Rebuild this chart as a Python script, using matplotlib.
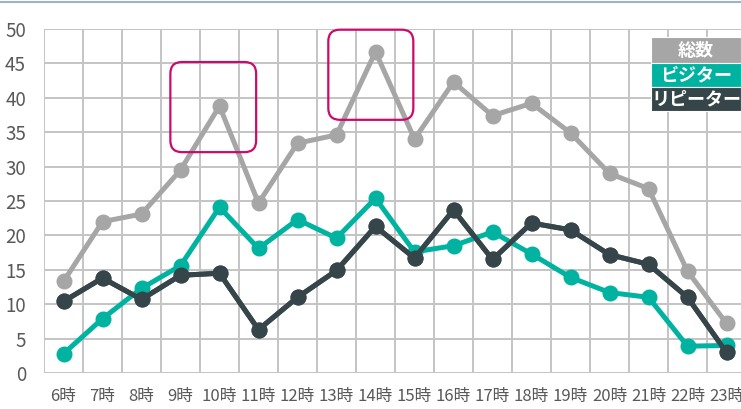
import matplotlib
matplotlib.use("Agg")
import matplotlib.pyplot as plt
from matplotlib.patches import FancyBboxPatch, Rectangle
from matplotlib.lines import Line2D

plt.rcParams["font.family"] = ["Noto Sans CJK JP", "DejaVu Sans"]

# hourly counts
hours = [f"{h}時" for h in range(6, 24)]
total = [13.3, 22.0, 23.1, 29.5, 38.8, 24.7, 33.4, 34.6, 46.7, 34.0,
         42.3, 37.4, 39.2, 34.9, 29.0, 26.8, 14.8, 7.2]
visitor = [2.8, 7.9, 12.3, 15.6, 24.1, 18.1, 22.3, 19.6, 25.4, 17.6,
           18.5, 20.5, 17.3, 13.9, 11.7, 11.0, 3.9, 4.0]
repeater = [10.4, 13.8, 10.7, 14.2, 14.5, 6.3, 11.0, 14.9, 21.3, 16.7,
            23.7, 16.5, 21.8, 20.8, 17.2, 15.8, 11.0, 3.0]
series_names = ["総数", "ビジター", "リピーター"]
yticks = [0, 5, 10, 15, 20, 25, 30, 35, 40, 45, 50]

C_TOTAL = "#a6a6a6"
C_VISIT = "#00b3a1"
C_REPEAT = "#36454a"
C_GRID = "#c4c4c4"
C_TEXT = "#595959"
C_HILITE = "#cc0a6a"

W, H = 741, 409
fig = plt.figure(figsize=(W / 100, H / 100), dpi=100)
# plot area runs past the right edge of the image
ax = fig.add_axes([44 / W, (H - 373) / H, 702 / W, 344 / H])

x = range(len(hours))
for vals, col in [(total, C_TOTAL), (repeater, C_REPEAT), (visitor, C_VISIT)]:
    ax.plot(x, vals, color=col, lw=3.6, marker="o", ms=10.5,
            solid_capstyle="round", zorder=3)
# repeater drawn on top at the crossing points
ax.plot(x, repeater, color=C_REPEAT, lw=3.6, marker="o", ms=10.5, zorder=4)

ax.set_xlim(-0.5, len(hours) - 0.5)
ax.set_ylim(0, 50)
ax.set_yticks(yticks)
ax.set_xticks(list(x))
ax.set_xticklabels(hours)
ax.tick_params(axis="both", length=0, colors=C_TEXT)
ax.tick_params(axis="y", labelsize=13.5, pad=13)
ax.tick_params(axis="x", labelsize=12, pad=11)

# category boundaries as vertical grid lines
for b in range(len(hours) + 1):
    ax.axvline(b - 0.5, color=C_GRID, lw=1.4, zorder=1)
for t in yticks:
    ax.axhline(t, color=C_GRID, lw=1.4, zorder=1)
for s in ax.spines.values():
    s.set_visible(False)

# highlight boxes around the 10時 and 14時 peaks
asp = (1 / 6.88) / (1 / 39.0)
for x0, x1, y0, y1 in [(2.74, 4.94, 32.1, 45.2), (6.79, 8.97, 36.8, 49.9)]:
    ax.add_patch(FancyBboxPatch((x0, y0), x1 - x0, y1 - y0,
                                boxstyle="round,pad=0,rounding_size=0.3",
                                mutation_aspect=asp, fill=False,
                                ec=C_HILITE, lw=1.6, zorder=5,
                                clip_on=False))

# legend as stacked colour blocks
lx0, lw_ = 651, 90
rows = [(37, 26), (63, 24), (87, 24)]
for name, col, (top, h) in zip(series_names, [C_TOTAL, C_VISIT, C_REPEAT], rows):
    fig.add_artist(Rectangle((lx0 / W, (H - top - h) / H), lw_ / W, h / H,
                             transform=fig.transFigure, fc=col, ec="white",
                             lw=0.8, zorder=6))
    fig.text((lx0 + lw_ / 2) / W, (H - top - h / 2) / H, name,
             color="white", fontsize=13, fontweight="bold",
             ha="center", va="center", zorder=7)

# thin header strip along the top edge
fig.add_artist(Line2D([0, 1], [1 - 1.5 / H, 1 - 1.5 / H],
                      transform=fig.transFigure, color="#9fb0c8", lw=1.5))

fig.savefig("out.png", dpi=100)
